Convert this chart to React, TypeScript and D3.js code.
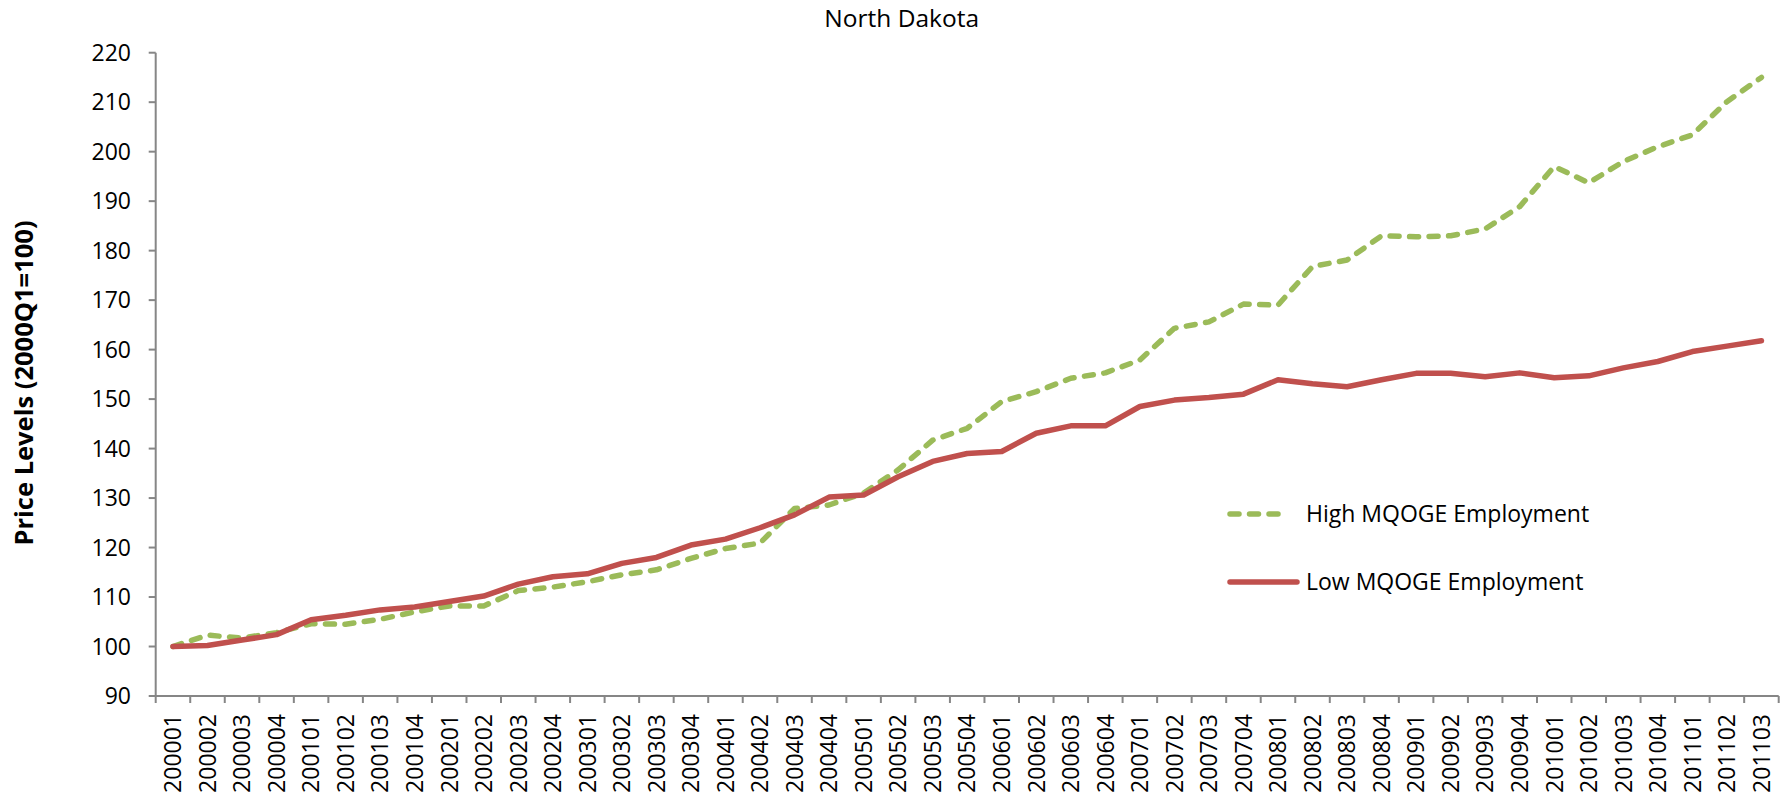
import { useRef, useEffect } from "react"
import * as d3 from "d3"

const quarters = [
  "200001", "200002", "200003", "200004", "200101", "200102", "200103", "200104",
  "200201", "200202", "200203", "200204", "200301", "200302", "200303", "200304",
  "200401", "200402", "200403", "200404", "200501", "200502", "200503", "200504",
  "200601", "200602", "200603", "200604", "200701", "200702", "200703", "200704",
  "200801", "200802", "200803", "200804", "200901", "200902", "200903", "200904",
  "201001", "201002", "201003", "201004", "201101", "201102", "201103",
]

const highMqoge = [
  100, 102.3, 101.7, 102.8, 104.6, 104.5, 105.5, 107, 108.2, 108.2, 111.3, 112,
  113.1, 114.5, 115.5, 117.8, 119.8, 120.9, 127.9, 128.6, 131, 135.7, 141.7, 144.1,
  149.5, 151.5, 154.2, 155.3, 157.9, 164.3, 165.6, 169.2, 169, 176.8, 178.1, 183,
  182.8, 183, 184.4, 188.9, 197, 193.7, 198, 201, 203.4, 210.1, 215,
]

const lowMqoge = [
  100, 100.2, 101.3, 102.4, 105.4, 106.3, 107.4, 108, 109.1, 110.2, 112.6, 114.1,
  114.7, 116.8, 118, 120.5, 121.7, 124, 126.6, 130.2, 130.6, 134.3, 137.4, 139,
  139.4, 143.1, 144.6, 144.6, 148.5, 149.8, 150.3, 151, 153.9, 153.1, 152.5, 153.9,
  155.2, 155.2, 154.5, 155.3, 154.3, 154.7, 156.3, 157.6, 159.6, 160.7, 161.8,
]

const yTicks = [90, 100, 110, 120, 130, 140, 150, 160, 170, 180, 190, 200, 210, 220]

const seriesNames = ["High MQOGE Employment", "Low MQOGE Employment"]

export default function NorthDakotaChart() {
  const svgRef = useRef<SVGSVGElement>(null)

  function drawChart() {
    const width = 1787
    const height = 795
    const left = 155.7
    const right = 1778.7
    const top = 52.7
    const bottom = 696

    const font = "'Open Sans', 'Noto Sans', sans-serif"
    const axisColor = "#868686"
    const green = "#9BBB59"
    const red = "#C0504D"

    const svg = d3.select(svgRef.current).attr("width", width).attr("height", height)
    svg.selectAll("*").remove()

    const x = d3.scaleBand<string>().domain(quarters).range([left, right])
    const y = d3.scaleLinear().domain([90, 220]).range([bottom, top])
    const cx = (q: string) => (x(q) as number) + x.bandwidth() / 2

    // Title
    svg
      .append("text")
      .text("North Dakota")
      .attr("x", 901.7)
      .attr("y", 26.5)
      .attr("text-anchor", "middle")
      .style("font-size", "24.5px")
      .style("font-family", font)
      .attr("fill", "#000")

    // Y axis
    const yAxis = svg.append("g")
    yAxis
      .append("line")
      .attr("x1", left)
      .attr("x2", left)
      .attr("y1", y(220))
      .attr("y2", y(90))
      .attr("stroke", axisColor)
      .attr("stroke-width", 2)
    yAxis
      .selectAll("line.tick")
      .data(yTicks)
      .enter()
      .append("line")
      .attr("class", "tick")
      .attr("x1", left - 7)
      .attr("x2", left)
      .attr("y1", (d) => y(d))
      .attr("y2", (d) => y(d))
      .attr("stroke", axisColor)
      .attr("stroke-width", 2)
    yAxis
      .selectAll("text")
      .data(yTicks)
      .enter()
      .append("text")
      .text((d) => d)
      .attr("x", 131)
      .attr("y", (d) => y(d))
      .attr("dy", "0.36em")
      .attr("text-anchor", "end")
      .style("font-size", "23px")
      .style("font-family", font)

    svg
      .append("text")
      .text("Price Levels (2000Q1=100)")
      .attr("transform", `translate(33, 383) rotate(-90)`)
      .attr("text-anchor", "middle")
      .style("font-size", "25.5px")
      .style("font-weight", "bold")
      .style("font-family", font)

    // X axis
    const xAxis = svg.append("g")
    xAxis
      .append("line")
      .attr("x1", left)
      .attr("x2", right)
      .attr("y1", bottom)
      .attr("y2", bottom)
      .attr("stroke", axisColor)
      .attr("stroke-width", 2)
    const edges = quarters.map((q) => x(q) as number).concat([right])
    xAxis
      .selectAll("line.tick")
      .data(edges)
      .enter()
      .append("line")
      .attr("class", "tick")
      .attr("x1", (d) => d)
      .attr("x2", (d) => d)
      .attr("y1", bottom)
      .attr("y2", bottom + 7)
      .attr("stroke", axisColor)
      .attr("stroke-width", 2)
    xAxis
      .selectAll("text")
      .data(quarters)
      .enter()
      .append("text")
      .text((d) => d)
      .attr("transform", (d) => `translate(${cx(d)}, ${bottom + 18}) rotate(-90)`)
      .attr("dy", "0.36em")
      .attr("text-anchor", "end")
      .style("font-size", "23px")
      .style("font-family", font)

    // Lines
    const line = d3
      .line<number>()
      .x((d, i) => cx(quarters[i]))
      .y((d) => y(d))

    svg
      .append("path")
      .attr("d", line(highMqoge))
      .attr("fill", "none")
      .attr("stroke", green)
      .attr("stroke-width", 5.5)
      .attr("stroke-linecap", "round")
      .attr("stroke-linejoin", "round")
      .attr("stroke-dasharray", "9 10.5")

    svg
      .append("path")
      .attr("d", line(lowMqoge))
      .attr("fill", "none")
      .attr("stroke", red)
      .attr("stroke-width", 5.5)
      .attr("stroke-linecap", "round")
      .attr("stroke-linejoin", "round")

    // Legend
    const legend = svg.append("g")
    const rows = [
      { name: seriesNames[0], color: green, dash: "9 10.5", ly: 514 },
      { name: seriesNames[1], color: red, dash: null, ly: 582 },
    ]
    rows.forEach((r) => {
      legend
        .append("line")
        .attr("x1", 1230)
        .attr("x2", r.dash ? 1288 : 1297)
        .attr("y1", r.ly)
        .attr("y2", r.ly)
        .attr("stroke", r.color)
        .attr("stroke-width", 5.5)
        .attr("stroke-linecap", "round")
        .attr("stroke-dasharray", r.dash)
      legend
        .append("text")
        .text(r.name)
        .attr("x", 1306)
        .attr("y", r.ly + 8)
        .style("font-size", "23px")
        .style("font-family", font)
    })
  }

  useEffect(() => {
    drawChart()
  }, [svgRef])

  return (
    <div style={{ position: "absolute", left: 0, top: 0, background: "#fff" }}>
      <svg ref={svgRef} style={{ display: "block" }}></svg>
    </div>
  )
}
